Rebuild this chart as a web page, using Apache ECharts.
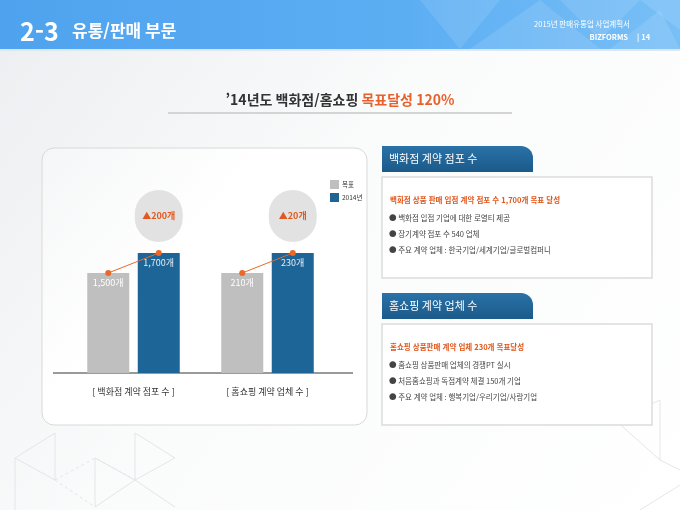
<!DOCTYPE html>
<html lang="ko">
<head>
<meta charset="utf-8">
<title>2-3 유통/판매 부문</title>
<script src="https://cdn.jsdelivr.net/npm/echarts@6/dist/echarts.min.js"></script>
<style>
  html, body { margin: 0; padding: 0; background: #fff; }
  #chart { width: 680px; height: 510px; }
</style>
</head>
<body>
<div id="chart"></div>
<script>
  // 차트 데이터
  var groups = ['[ 백화점 계약 점포 수 ]', '[ 홈쇼핑 계약 업체 수 ]'];
  var seriesNames = ['목표', '2014년'];
  var goalValues = [1500, 210];
  var actualValues = [1700, 230];

  // 오른쪽 설명 박스
  var panelTitles = ['백화점 계약 점포 수', '홈쇼핑 계약 업체 수'];
  var panelHeads = ['백화점 상품 판매 입점 계약 점포 수 1,700개 목표 달성', '홈쇼핑 상품판매 계약 업체 230개 목표달성'];
  var panelItems = [
    ['백화점 입점 기업에 대한 로열티 제공', '장기계약 점포 수 540 업체', '주요 계약 업체 : 한국기업/세계기업/글로벌컴퍼니'],
    ['홈쇼핑 상품판매 업체의 경쟁PT 실시', '처음홈쇼핑과 독점계약 체결 150개 기업', '주요 계약 업체 : 행복기업/우리기업/사랑기업']
  ];

  var FONT = "'Noto Sans CJK KR', 'Noto Sans', sans-serif";
  var GRAY = '#bfbfbf', BLUE = '#1d6597', ORANGE = '#e8692a';
  // 그룹별 축 범위 (원본처럼 두 그룹 막대 높이를 맞춤)
  var axisMin = [500, 110];
  var axisMax = [2300, 290];
  var gridLeft = [83, 217];

  var myChart = echarts.init(document.getElementById('chart'));

  function fmt(v) {
    return v.toLocaleString('en-US') + '개';
  }

  var grids = [], xAxes = [], yAxes = [], series = [];
  for (var g = 0; g < groups.length; g++) {
    grids.push({ left: gridLeft[g], width: 101, top: 193, height: 180 });
    xAxes.push({
      gridIndex: g, type: 'category', data: seriesNames,
      axisLine: { show: false }, axisTick: { show: false }, axisLabel: { show: false },
      name: groups[g], nameLocation: 'middle', nameGap: 14,
      nameTextStyle: { fontSize: 9, color: '#333', fontFamily: FONT }
    });
    yAxes.push({ gridIndex: g, type: 'value', min: axisMin[g], max: axisMax[g], show: false });

    series.push({
      name: seriesNames[0], type: 'bar', xAxisIndex: g, yAxisIndex: g,
      data: [goalValues[g], '-'], barWidth: 42, barGap: '-100%',
      itemStyle: { color: GRAY },
      label: { show: true, position: 'insideTop', distance: 5, color: '#fff', fontSize: 9,
        formatter: function (p) { return fmt(p.value); } }
    });
    series.push({
      name: seriesNames[1], type: 'bar', xAxisIndex: g, yAxisIndex: g,
      data: ['-', actualValues[g]], barWidth: 42, barGap: '-100%',
      itemStyle: { color: BLUE },
      label: { show: true, position: 'insideTop', distance: 5, color: '#e4edf5', fontSize: 9,
        formatter: function (p) { return fmt(p.value); } }
    });
    series.push({
      name: '증감', type: 'line', xAxisIndex: g, yAxisIndex: g, z: 5,
      data: [
        { value: goalValues[g] },
        { value: actualValues[g], label: {
            show: true, position: 'top', distance: 8,
            width: 48, height: 52, lineHeight: 52, borderRadius: 26,
            backgroundColor: '#e2e2e2', color: '#e2581e', fontSize: 9, fontWeight: 'bold',
            formatter: '▲' + (actualValues[g] - goalValues[g]) + '개'
        } }
      ],
      symbol: 'circle', symbolSize: 6,
      lineStyle: { color: ORANGE, width: 1 },
      itemStyle: { color: ORANGE }
    });
  }

  // 슬라이드 장식 및 텍스트
  var graphics = [];
  function text(x, y, str, size, color, weight, align) {
    graphics.push({ type: 'text', x: x, y: y, silent: true, style: {
      text: str, fill: color, fontSize: size, fontWeight: weight || 'normal',
      fontFamily: FONT, textAlign: align || 'left', textVerticalAlign: 'middle'
    } });
  }
  function line(pts, color, dash) {
    graphics.push({ type: 'polyline', silent: true, shape: { points: pts },
      style: { stroke: color, lineWidth: 1, lineDash: dash ? [3, 3] : null, fill: null } });
  }

  // 상단 헤더
  graphics.push({ type: 'rect', shape: { x: 0, y: 0, width: 680, height: 49 },
    style: { fill: new echarts.graphic.LinearGradient(0, 0, 1, 0, [
      { offset: 0, color: '#4fa3ee' }, { offset: 0.6, color: '#5caef3' }, { offset: 1, color: '#78bff6' }]) } });
  [[[420, 0], [500, 0], [460, 49]], [[470, 49], [540, 0], [600, 49]], [[560, 0], [640, 0], [600, 40]],
   [[610, 49], [660, 10], [680, 49]], [[640, 0], [680, 0], [680, 30]]].forEach(function (p) {
    graphics.push({ type: 'polygon', shape: { points: p }, style: { fill: 'rgba(255,255,255,0.11)' } });
  });
  graphics.push({ type: 'rect', shape: { x: 0, y: 49, width: 680, height: 2 }, style: { fill: '#dfe6ee' } });
  text(20, 31, '2-3', 25, '#fff', 'bold');
  text(72, 31, '유통/판매 부문', 17, '#fff', 'bold');
  text(630, 24, '2015년 판매유통업 사업계획서', 7.5, '#fff', 'normal', 'right');
  text(628, 37, 'BIZFORMS', 7.5, '#fff', 'bold', 'right');
  text(637, 37, '| 14', 7.5, '#fff', 'bold');

  // 하단 삼각형 패턴
  line([[15, 458], [55, 433], [55, 480], [15, 458]], '#e3e6ea');
  line([[55, 480], [95, 458], [135, 480]], '#e3e6ea', true);
  line([[55, 480], [95, 507]], '#e3e6ea', true);
  line([[95, 458], [95, 507], [135, 480], [95, 458]], '#e3e6ea');
  line([[135, 433], [175, 458], [135, 480], [135, 433]], '#e3e6ea');
  line([[135, 480], [175, 507]], '#e3e6ea');
  line([[15, 458], [15, 510]], '#e3e6ea');
  line([[585, 398], [615, 380], [615, 420], [585, 398]], '#e3e6ea');
  line([[615, 420], [660, 400], [660, 460], [615, 420]], '#e3e6ea');
  line([[660, 460], [680, 470]], '#e3e6ea');
  line([[640, 510], [680, 485]], '#e3e6ea');

  // 제목
  graphics.push({ type: 'text', x: 340, y: 100, style: {
    text: '{a|’14년도 백화점/홈쇼핑 }{b|목표달성 120%}', textAlign: 'center', textVerticalAlign: 'middle',
    rich: {
      a: { fontSize: 14, fontWeight: 'bold', fill: '#333', fontFamily: FONT },
      b: { fontSize: 14, fontWeight: 'bold', fill: '#e8612c', fontFamily: FONT }
    } } });
  graphics.push({ type: 'rect', shape: { x: 168, y: 112, width: 344, height: 2 }, style: { fill: '#d4d4d4' } });

  // 차트 패널
  graphics.push({ type: 'rect', z: -1, shape: { x: 42, y: 148, width: 325, height: 277, r: 12 },
    style: { fill: new echarts.graphic.LinearGradient(0, 0, 1, 1, [
      { offset: 0, color: '#f5f6f7' }, { offset: 0.4, color: '#fff' }, { offset: 1, color: '#fff' }]),
      stroke: '#d9d9d9', lineWidth: 1 } });
  graphics.push({ type: 'rect', shape: { x: 53, y: 372, width: 300, height: 2 }, style: { fill: '#9a9a9a' } });

  // 오른쪽 설명 박스
  var boxTop = [146, 293];
  for (var i = 0; i < panelTitles.length; i++) {
    var t = boxTop[i];
    graphics.push({ type: 'rect', shape: { x: 382, y: t, width: 151, height: 26, r: [0, 12, 0, 0] },
      style: { fill: new echarts.graphic.LinearGradient(0, 0, 0, 1, [
        { offset: 0, color: '#2a72a8' }, { offset: 1, color: '#1b5a89' }]) } });
    text(389, t + 13, panelTitles[i], 11, '#fff');
    graphics.push({ type: 'rect', shape: { x: 382, y: t + 31, width: 270, height: 101 },
      style: { fill: '#fff', stroke: '#dcdcdc', lineWidth: 1.5 } });
    text(390, t + 54, panelHeads[i], 7.5, '#e0561b', 'bold');
    for (var k = 0; k < panelItems[i].length; k++) {
      text(389, t + 72 + k * 16, '● ' + panelItems[i][k], 7.5, '#444');
    }
  }

  myChart.setOption({
    animation: false,
    backgroundColor: new echarts.graphic.LinearGradient(0, 0, 1, 1, [
      { offset: 0, color: '#eceef1' }, { offset: 0.45, color: '#fafbfb' }, { offset: 1, color: '#ffffff' }]),
    textStyle: { fontFamily: FONT },
    legend: {
      data: seriesNames, orient: 'vertical', left: 325, top: 175,
      icon: 'rect', itemWidth: 9, itemHeight: 9, itemGap: 4, selectedMode: false,
      textStyle: { fontSize: 6.5, color: '#333', fontFamily: FONT, padding: [0, 0, 0, -2] }
    },
    grid: grids,
    xAxis: xAxes,
    yAxis: yAxes,
    series: series,
    graphic: graphics
  });
</script>
</body>
</html>
